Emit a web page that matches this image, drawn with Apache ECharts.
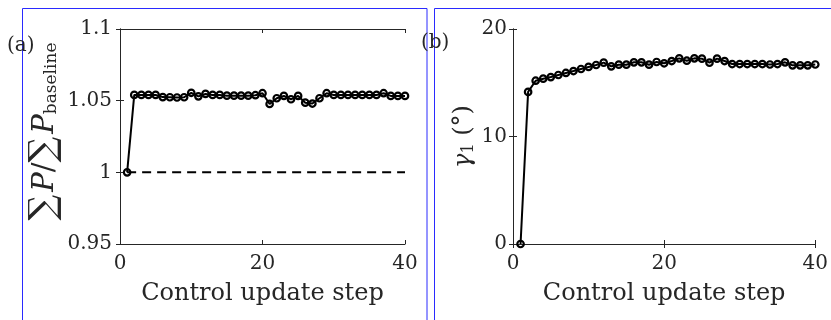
<!DOCTYPE html>
<html>
<head>
<meta charset="utf-8">
<script src="https://cdn.jsdelivr.net/npm/echarts@6/dist/echarts.min.js"></script>
<style>html,body{margin:0;padding:0;background:#fff}#c{width:831px;height:320px}</style>
</head>
<body>
<div id="c"></div>
<script>
const steps = [1,2,3,4,5,6,7,8,9,10,11,12,13,14,15,16,17,18,19,20,21,22,23,24,25,26,27,28,29,30,31,32,33,34,35,36,37,38,39,40];
const powerRatio = [1.000,1.054,1.054,1.054,1.054,1.0525,1.0524,1.0522,1.0524,1.0555,1.053,1.0547,1.054,1.054,1.0535,1.0535,1.0535,1.0535,1.0538,1.0552,1.0477,1.0517,1.0533,1.051,1.0533,1.0486,1.048,1.0517,1.0552,1.054,1.054,1.054,1.054,1.054,1.054,1.054,1.0552,1.0533,1.0533,1.0533];
const gamma1 = [0,14.15,15.19,15.38,15.53,15.72,15.91,16.09,16.28,16.47,16.65,16.87,16.53,16.68,16.68,16.9,16.9,16.68,16.93,16.81,17.02,17.27,17.05,17.27,17.24,16.87,17.24,17.02,16.74,16.74,16.74,16.74,16.74,16.7,16.74,16.9,16.62,16.62,16.62,16.7];
const baselineX = [1, 40];
const baselineY = [1, 1];
const xTicks = [0, 20, 40];
const leftYTicks = [0.95, 1, 1.05, 1.1];
const rightYTicks = [0, 10, 20];

const FONT = '"DejaVu Serif", "Liberation Serif", serif';
const INK = '#262626';

function xAxisPair(gi) {
  return [{
    gridIndex: gi, type: 'value', min: xTicks[0], max: xTicks[xTicks.length-1], interval: xTicks[1]-xTicks[0],
    name: 'Control update step', nameLocation: 'middle', nameGap: 38,
    nameTextStyle: {fontFamily: FONT, fontSize: 24, color: INK},
    axisLine: {show: true, lineStyle: {color: INK, width: 1}},
    axisTick: {show: true, inside: true, length: 4, lineStyle: {color: INK}},
    axisLabel: {fontFamily: FONT, fontSize: 20, color: INK, margin: 10},
    splitLine: {show: false}
  }, {
    gridIndex: gi, type: 'value', position: 'top', min: xTicks[0], max: xTicks[xTicks.length-1], interval: xTicks[1]-xTicks[0],
    axisLine: {show: true, lineStyle: {color: INK, width: 1}},
    axisTick: {show: true, inside: true, length: 4, lineStyle: {color: INK}},
    axisLabel: {show: false}, splitLine: {show: false}
  }];
}

const markerStyle = {color: 'rgba(0,0,0,0)', borderColor: '#000', borderWidth: 2.2};

const chart = echarts.init(document.getElementById('c'), null, {renderer: 'canvas'});
const option = {
  animation: false,
  backgroundColor: '#fff',
  grid: [
    {left: 120, top: 29, width: 285, height: 215},
    {left: 513, top: 29, width: 304, height: 215}
  ],
  xAxis: [...xAxisPair(0), ...xAxisPair(1)],
  yAxis: [
    {
      gridIndex: 0, type: 'value', min: leftYTicks[0], max: leftYTicks[leftYTicks.length-1], interval: 0.05,
      name: '{s|∑}{i|P}{n|/}{s|∑}{i|P}{sub|baseline}', nameLocation: 'middle', nameGap: 57, nameRotate: 90,
      nameTextStyle: {
        fontFamily: FONT, color: INK, padding: [0, 0, 0, 10],
        rich: {
          s: {fontFamily: FONT, fontSize: 36, color: INK, padding: [0,3,0,0]},
          i: {fontFamily: FONT, fontSize: 29, fontStyle: 'italic', color: INK},
          n: {fontFamily: FONT, fontSize: 29, color: INK},
          sub: {fontFamily: FONT, fontSize: 17, color: INK, padding: [13,0,0,0]}
        }
      },
      axisLine: {show: true, lineStyle: {color: INK}},
      axisTick: {show: true, inside: true, length: 4, lineStyle: {color: INK}},
      axisLabel: {fontFamily: FONT, fontSize: 20, color: INK, margin: 8,
        formatter: v => leftYTicks.find(t => Math.abs(t - v) < 1e-9) !== undefined ? String(+v.toFixed(2)) : ''},
      splitLine: {show: false}
    },
    {
      gridIndex: 0, type: 'value', position: 'right', min: leftYTicks[0], max: leftYTicks[leftYTicks.length-1], interval: 0.05,
      axisLine: {show: true, lineStyle: {color: INK}},
      axisTick: {show: true, inside: true, length: 4, lineStyle: {color: INK}},
      axisLabel: {show: false}, splitLine: {show: false}
    },
    {
      gridIndex: 1, type: 'value', min: rightYTicks[0], max: rightYTicks[rightYTicks.length-1], interval: 10,
      name: '{i|γ}{sub|1}{n| (°)}', nameLocation: 'middle', nameGap: 36, nameRotate: 90,
      nameTextStyle: {
        fontFamily: FONT, color: INK,
        rich: {
          i: {fontFamily: FONT, fontSize: 24, fontStyle: 'italic', color: INK},
          n: {fontFamily: FONT, fontSize: 24, color: INK},
          sub: {fontFamily: FONT, fontSize: 16, color: INK, padding: [10,0,0,0]}
        }
      },
      axisLine: {show: true, lineStyle: {color: INK}},
      axisTick: {show: true, inside: true, length: 4, lineStyle: {color: INK}},
      axisLabel: {fontFamily: FONT, fontSize: 20, color: INK, margin: 6},
      splitLine: {show: false}
    },
    {
      gridIndex: 1, type: 'value', position: 'right', min: rightYTicks[0], max: rightYTicks[rightYTicks.length-1], interval: 10,
      axisLine: {show: true, lineStyle: {color: INK}},
      axisTick: {show: true, inside: true, length: 4, lineStyle: {color: INK}},
      axisLabel: {show: false}, splitLine: {show: false}
    }
  ],
  series: [
    {
      type: 'line', xAxisIndex: 0, yAxisIndex: 0,
      data: baselineX.map((x, i) => [x, baselineY[i]]),
      symbol: 'none', lineStyle: {color: '#000', width: 2, type: [9, 6]}, z: 1
    },
    {
      type: 'line', xAxisIndex: 0, yAxisIndex: 0,
      data: steps.map((x, i) => [x, powerRatio[i]]),
      symbol: 'circle', symbolSize: 6.5, showAllSymbol: true,
      itemStyle: markerStyle,
      lineStyle: {color: '#000', width: 2}, z: 3
    },
    {
      type: 'line', xAxisIndex: 2, yAxisIndex: 2,
      data: steps.map((x, i) => [x, gamma1[i]]),
      symbol: 'circle', symbolSize: 6.5, showAllSymbol: true,
      itemStyle: markerStyle,
      lineStyle: {color: '#000', width: 2}, z: 3
    }
  ],
  graphic: [
    {type: 'rect', shape: {x: 22.5, y: 8.5, width: 404.5, height: 400}, style: {fill: null, stroke: '#2a2aff', lineWidth: 1}, silent: true},
    {type: 'rect', shape: {x: 434.5, y: 8.5, width: 500, height: 400}, style: {fill: null, stroke: '#2a2aff', lineWidth: 1}, silent: true},
    {type: 'text', left: 7, top: 36, style: {text: '(a)', font: '20px ' + FONT, fill: INK}, z: 10},
    {type: 'text', left: 421, top: 33, style: {text: '(b)', font: '20px ' + FONT, fill: INK}, z: 10}
  ]
};
chart.setOption(option);
</script>
</body>
</html>
